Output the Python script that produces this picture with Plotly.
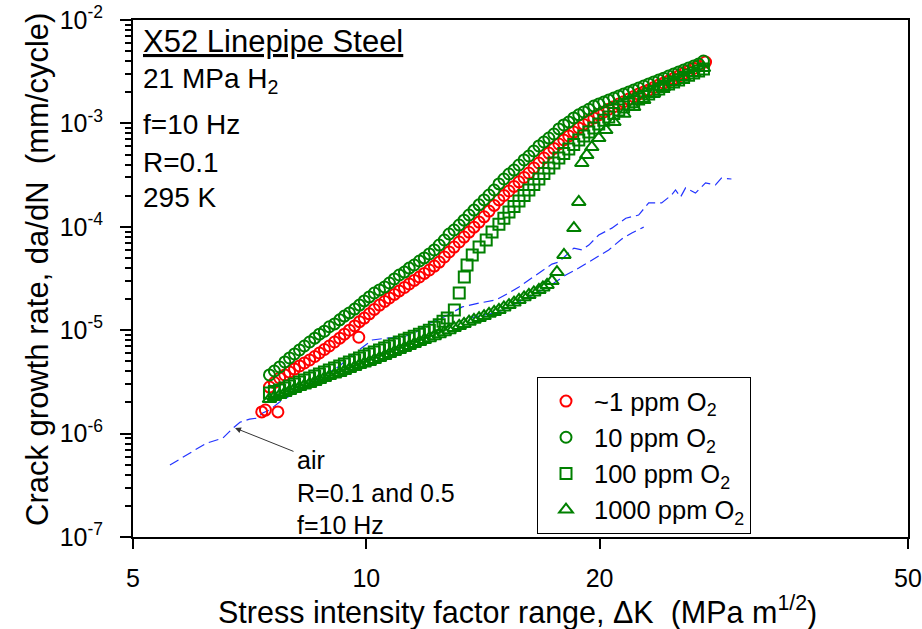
import plotly.graph_objects as go

# ---------------- data ----------------
# ~1 ppm O2  (red circles)
dk_1ppm = [7.33, 7.41, 7.69,
           7.50, 7.61, 7.73, 7.85, 7.96, 8.08, 8.20, 8.32, 8.45, 8.58, 8.70, 8.83, 8.96, 9.10,
           9.24, 9.37, 9.51, 9.66, 9.78, 9.80, 9.94, 10.09, 10.24, 10.40, 10.56, 10.71, 10.87,
           11.03, 11.20, 11.36, 11.53, 11.71, 11.88, 12.06, 12.24, 12.42, 12.61, 12.79, 12.98,
           13.18, 13.37, 13.57, 13.77, 13.98, 14.19, 14.40, 14.62, 14.83, 15.05, 15.28, 15.51,
           15.74, 15.98, 16.21, 16.45, 16.70, 16.95, 17.20, 17.46, 17.72, 17.98, 18.25, 18.52,
           18.80, 19.08, 19.37, 19.66, 19.95, 20.25, 20.55, 20.86, 21.17, 21.48, 21.81, 22.13,
           22.46, 22.80, 23.14, 23.49, 23.84, 24.19, 24.55, 24.92, 25.29, 25.67, 26.05, 26.45,
           26.84, 27.40]
rate_1ppm = [1.62e-6, 1.69e-6, 1.62e-6,
             2.82e-6, 3.12e-6, 3.45e-6, 3.69e-6, 3.94e-6, 4.21e-6, 4.51e-6, 4.82e-6, 5.15e-6,
             5.57e-6, 6.02e-6, 6.51e-6, 7.03e-6, 7.69e-6, 8.37e-6, 9.15e-6, 1.00e-5, 1.10e-5,
             8.55e-6, 1.21e-5, 1.31e-5, 1.44e-5, 1.59e-5, 1.75e-5, 1.90e-5, 2.05e-5, 2.22e-5,
             2.40e-5, 2.59e-5, 2.80e-5, 3.03e-5, 3.27e-5, 3.54e-5, 3.82e-5, 4.17e-5, 4.56e-5,
             5.11e-5, 5.71e-5, 6.37e-5, 7.13e-5, 7.96e-5, 8.90e-5, 9.92e-5, 1.11e-4, 1.25e-4,
             1.42e-4, 1.61e-4, 1.82e-4, 2.01e-4, 2.22e-4, 2.46e-4, 2.72e-4, 3.00e-4, 3.31e-4,
             3.71e-4, 4.14e-4, 4.63e-4, 5.17e-4, 5.73e-4, 6.32e-4, 6.91e-4, 7.55e-4, 8.25e-4,
             9.04e-4, 9.77e-4, 1.06e-3, 1.13e-3, 1.21e-3, 1.29e-3, 1.37e-3, 1.45e-3, 1.54e-3,
             1.62e-3, 1.72e-3, 1.82e-3, 1.92e-3, 2.01e-3, 2.10e-3, 2.23e-3, 2.35e-3, 2.46e-3,
             2.57e-3, 2.72e-3, 2.87e-3, 3.04e-3, 3.21e-3, 3.40e-3, 3.59e-3, 3.92e-3]

# 10 ppm O2 (green circles)
dk_10ppm = [7.50, 7.61, 7.73, 7.85, 7.96, 8.08, 8.20, 8.32, 8.45, 8.58, 8.70, 8.83, 8.96, 9.10,
            9.24, 9.37, 9.51, 9.66, 9.80, 9.94, 10.09, 10.24, 10.40, 10.56, 10.71, 10.87, 11.03,
            11.20, 11.36, 11.53, 11.71, 11.88, 12.06, 12.24, 12.42, 12.61, 12.79, 12.98, 13.18,
            13.37, 13.57, 13.77, 13.98, 14.19, 14.40, 14.62, 14.83, 15.05, 15.28, 15.51, 15.74,
            15.98, 16.21, 16.45, 16.70, 16.95, 17.20, 17.46, 17.72, 17.98, 18.25, 18.52, 18.80,
            19.08, 19.37, 19.66, 19.95, 20.25, 20.55, 20.86, 21.17, 21.48, 21.81, 22.13, 22.46,
            22.80, 23.14, 23.49, 23.84, 24.19, 24.55, 24.92, 25.29, 25.67, 26.05, 26.45, 26.84,
            27.23]
rate_10ppm = [3.69e-6, 4.03e-6, 4.41e-6, 4.93e-6, 5.39e-6, 5.89e-6, 6.44e-6, 7.03e-6, 7.69e-6,
              8.37e-6, 9.15e-6, 9.78e-6, 1.08e-5, 1.15e-5, 1.26e-5, 1.37e-5, 1.47e-5, 1.60e-5,
              1.75e-5, 1.92e-5, 2.10e-5, 2.29e-5, 2.45e-5, 2.62e-5, 2.86e-5, 3.13e-5, 3.42e-5,
              3.65e-5, 3.99e-5, 4.27e-5, 4.67e-5, 5.00e-5, 5.46e-5, 5.97e-5, 6.66e-5, 7.45e-5,
              8.52e-5, 9.31e-5, 1.04e-4, 1.16e-4, 1.30e-4, 1.45e-4, 1.63e-4, 1.82e-4, 2.03e-4,
              2.27e-4, 2.60e-4, 2.90e-4, 3.24e-4, 3.54e-4, 3.96e-4, 4.43e-4, 4.84e-4, 5.41e-4,
              6.05e-4, 6.61e-4, 7.22e-4, 7.90e-4, 8.84e-4, 9.66e-4, 1.03e-3, 1.13e-3, 1.21e-3,
              1.29e-3, 1.37e-3, 1.47e-3, 1.54e-3, 1.61e-3, 1.68e-3, 1.76e-3, 1.84e-3, 1.92e-3,
              2.01e-3, 2.10e-3, 2.20e-3, 2.30e-3, 2.41e-3, 2.52e-3, 2.63e-3, 2.74e-3, 2.87e-3,
              3.00e-3, 3.14e-3, 3.28e-3, 3.43e-3, 3.59e-3, 3.75e-3, 4.01e-3]

# 100 ppm O2 (green squares)
dk_100ppm = [7.50, 7.61, 7.73, 7.85, 7.96, 8.08, 8.20, 8.32, 8.45, 8.58, 8.70, 8.83, 8.96, 9.10,
             9.24, 9.37, 9.51, 9.66, 9.80, 9.94, 10.09, 10.24, 10.40, 10.56, 10.71, 10.87, 11.03,
             11.20, 11.36, 11.53, 11.71, 11.88, 12.06, 12.24, 12.42, 12.56, 12.72, 12.99, 13.18,
             13.38, 13.49, 13.70, 13.98, 14.28, 14.53, 14.83, 15.05, 15.28, 15.51, 15.74, 15.98,
             16.21, 16.45, 16.70, 16.95, 17.20, 17.46, 17.72, 17.98, 18.25, 18.52, 18.80, 19.08,
             19.37, 19.66, 19.95, 20.25, 20.55, 20.86, 21.17, 21.48, 21.81, 22.13, 22.46, 22.80,
             23.14, 23.49, 23.84, 24.19, 24.55, 24.92, 25.29, 25.67, 26.05, 26.45, 26.84, 27.23]
rate_100ppm = [2.47e-6, 2.55e-6, 2.64e-6, 2.76e-6, 2.89e-6, 3.02e-6, 3.16e-6, 3.30e-6, 3.45e-6,
               3.60e-6, 3.77e-6, 3.94e-6, 4.12e-6, 4.31e-6, 4.51e-6, 4.71e-6, 4.93e-6, 5.15e-6,
               5.39e-6, 5.63e-6, 5.89e-6, 6.16e-6, 6.44e-6, 6.73e-6, 7.03e-6, 7.36e-6, 7.69e-6,
               8.04e-6, 8.37e-6, 8.75e-6, 9.15e-6, 9.56e-6, 1.00e-5, 1.07e-5, 1.13e-5, 1.22e-5,
               1.31e-5, 1.57e-5, 2.29e-5, 3.27e-5, 4.27e-5, 5.34e-5, 6.37e-5, 7.45e-5, 8.90e-5,
               1.06e-4, 1.21e-4, 1.39e-4, 1.57e-4, 1.78e-4, 2.01e-4, 2.27e-4, 2.57e-4, 2.90e-4,
               3.28e-4, 3.71e-4, 4.14e-4, 4.63e-4, 5.12e-4, 5.65e-4, 6.25e-4, 6.91e-4, 7.55e-4,
               8.25e-4, 9.04e-4, 9.88e-4, 1.07e-3, 1.15e-3, 1.25e-3, 1.35e-3, 1.44e-3, 1.54e-3,
               1.62e-3, 1.72e-3, 1.82e-3, 1.92e-3, 2.03e-3, 2.15e-3, 2.28e-3, 2.41e-3, 2.52e-3,
               2.63e-3, 2.78e-3, 2.93e-3, 3.07e-3, 3.21e-3, 3.36e-3]

# 1000 ppm O2 (green triangles)
dk_1000ppm = [7.50, 7.61, 7.73, 7.85, 7.96, 8.08, 8.20, 8.32, 8.45, 8.58, 8.70, 8.83, 8.96, 9.10,
              9.24, 9.37, 9.51, 9.66, 9.80, 9.94, 10.09, 10.24, 10.40, 10.56, 10.71, 10.87, 11.03,
              11.20, 11.36, 11.53, 11.71, 11.88, 12.06, 12.24, 12.42, 12.61, 12.79, 12.98, 13.18,
              13.37, 13.57, 13.77, 13.98, 14.19, 14.40, 14.62, 14.83, 15.05, 15.28, 15.51, 15.74,
              15.98, 16.21, 16.45, 16.70, 16.90, 17.11, 17.36, 17.62, 17.99, 18.53, 18.80, 18.97,
              19.25, 19.54, 19.95, 20.37, 20.87, 21.49, 22.13, 22.80, 23.49, 24.19, 24.92, 25.67,
              26.45, 27.23]
rate_1000ppm = [2.16e-6, 2.26e-6, 2.36e-6, 2.47e-6, 2.58e-6, 2.70e-6, 2.82e-6, 2.92e-6, 3.02e-6,
                3.16e-6, 3.30e-6, 3.45e-6, 3.60e-6, 3.73e-6, 3.85e-6, 4.03e-6, 4.21e-6, 4.41e-6,
                4.61e-6, 4.77e-6, 4.93e-6, 5.15e-6, 5.39e-6, 5.63e-6, 5.89e-6, 6.16e-6, 6.44e-6,
                6.73e-6, 7.03e-6, 7.36e-6, 7.69e-6, 8.04e-6, 8.37e-6, 8.75e-6, 9.15e-6, 9.56e-6,
                1.00e-5, 1.05e-5, 1.10e-5, 1.15e-5, 1.21e-5, 1.26e-5, 1.31e-5, 1.37e-5, 1.44e-5,
                1.50e-5, 1.57e-5, 1.66e-5, 1.75e-5, 1.85e-5, 1.96e-5, 2.08e-5, 2.19e-5, 2.32e-5,
                2.45e-5, 2.59e-5, 2.74e-5, 2.99e-5, 3.65e-5, 5.34e-5, 9.71e-5, 1.74e-4, 4.14e-4,
                4.95e-4, 5.91e-4, 7.22e-4, 8.63e-4, 1.03e-3, 1.24e-3, 1.44e-3, 1.68e-3, 1.96e-3,
                2.25e-3, 2.52e-3, 2.81e-3, 3.07e-3, 3.43e-3]

# air reference curves (blue dashed)
dk_air_a = [5.58, 5.80, 6.01, 6.23, 6.53, 6.73, 6.87, 7.07, 7.22, 7.35, 7.50, 7.73, 7.96, 8.20,
            8.70, 9.24, 9.51, 9.89, 10.18, 10.61, 11.13, 11.53, 11.95, 12.53, 13.30, 13.98,
            14.70, 15.28, 15.74, 16.21, 16.70, 17.36, 17.72, 18.25, 18.53, 18.97, 19.37, 19.95,
            20.74, 21.62, 22.46, 23.14, 24.05, 24.77, 25.06, 25.44, 25.82, 26.59, 27.40, 28.22,
            28.72, 29.59]
rate_air_a = [4.96e-7, 5.94e-7, 6.94e-7, 8.11e-7, 9.04e-7, 1.13e-6, 1.29e-6, 1.38e-6, 1.41e-6,
              1.58e-6, 1.69e-6, 2.02e-6, 2.31e-6, 2.64e-6, 3.45e-6, 4.51e-6, 5.51e-6, 6.88e-6,
              8.04e-6, 8.37e-6, 8.55e-6, 9.35e-6, 1.13e-5, 1.31e-5, 1.68e-5, 1.83e-5, 1.96e-5,
              2.29e-5, 2.62e-5, 3.06e-5, 3.57e-5, 4.36e-5, 4.56e-5, 5.58e-5, 6.23e-5, 5.97e-5,
              6.66e-5, 8.33e-5, 9.71e-5, 1.21e-4, 1.30e-4, 1.70e-4, 1.70e-4, 2.03e-4, 2.27e-4,
              1.94e-4, 2.38e-4, 2.12e-4, 2.66e-4, 2.54e-4, 2.96e-4, 2.90e-4]
dk_air_b = [13.57, 14.83, 15.74, 16.70, 17.46, 18.09, 18.80, 19.54, 20.55, 21.36, 22.01, 22.80]
rate_air_b = [1.31e-5, 1.50e-5, 1.87e-5, 2.34e-5, 2.86e-5, 3.42e-5, 3.99e-5, 4.77e-5, 5.97e-5,
              7.62e-5, 8.71e-5, 9.92e-5]

x_tickvals = [5, 10, 20, 50]
x_ticktext = ["5", "10", "20", "50"]
y_tickvals = [1e-7, 1e-6, 1e-5, 1e-4, 1e-3, 1e-2]
y_ticktext = ["10<sup>-7</sup>", "10<sup>-6</sup>", "10<sup>-5</sup>",
              "10<sup>-4</sup>", "10<sup>-3</sup>", "10<sup>-2</sup>"]
y_minor = [m * 10.0 ** e for e in range(-7, -2) for m in range(2, 10)]

FONT = "Liberation Sans, Arial, sans-serif"
RED = "#ff0000"
GREEN = "#008000"
BLUE = "#2233ff"

fig = go.Figure()

for xs, ys in [(dk_air_a, rate_air_a), (dk_air_b, rate_air_b)]:
    fig.add_trace(go.Scatter(x=xs, y=ys, mode="lines", showlegend=False,
                             line=dict(color=BLUE, width=1.2, dash="10px,5px")))

fig.add_trace(go.Scatter(x=dk_1ppm, y=rate_1ppm, mode="markers", name="~1 ppm O<sub>2</sub>",
                         marker=dict(symbol="circle-open", size=11, color=RED,
                                     line=dict(width=2, color=RED))))
fig.add_trace(go.Scatter(x=dk_10ppm, y=rate_10ppm, mode="markers", name="10 ppm O<sub>2</sub>",
                         marker=dict(symbol="circle-open", size=11, color=GREEN,
                                     line=dict(width=2, color=GREEN))))
fig.add_trace(go.Scatter(x=dk_100ppm, y=rate_100ppm, mode="markers", name="100 ppm O<sub>2</sub>",
                         marker=dict(symbol="square-open", size=11, color=GREEN,
                                     line=dict(width=2, color=GREEN))))
fig.add_trace(go.Scatter(x=dk_1000ppm, y=rate_1000ppm, mode="markers", name="1000 ppm O<sub>2</sub>",
                         marker=dict(symbol="triangle-up-open", size=12, color=GREEN,
                                     line=dict(width=2, color=GREEN))))

L, R, T, B = 133, 14, 20, 92
W, H = 922, 629
pw, ph = W - L - R, H - T - B


def px(xp):
    return (xp - L) / pw


def py(yp):
    return (H - B - yp) / ph


annotations = []
# top-left labels
for txt, ypix, size in [("<u>X52 Linepipe Steel</u>", 42, 31),
                        ("21 MPa H<sub>2</sub>", 80, 28),
                        ("f=10 Hz", 125, 28),
                        ("R=0.1", 162, 28),
                        ("295 K", 197, 28)]:
    annotations.append(dict(x=px(141), y=py(ypix), xref="paper", yref="paper", text=txt,
                            showarrow=False, xanchor="left", yanchor="middle",
                            font=dict(family=FONT, size=size, color="black")))
# air label and arrow
annotations.append(dict(x=px(295), y=py(492), xref="paper", yref="paper",
                        text="air<br>R=0.1 and 0.5<br>f=10 Hz", align="left",
                        showarrow=False, xanchor="left", yanchor="middle",
                        font=dict(family=FONT, size=25, color="black")))
annotations.append(dict(x=px(235), y=py(428), xref="paper", yref="paper", text="",
                        showarrow=True, ax=60, ay=24, arrowhead=2, arrowsize=1.2,
                        arrowwidth=1, arrowcolor="#333333"))
# axis titles
annotations.append(dict(x=px(37), y=py(270), xref="paper", yref="paper",
                        text="Crack growth rate, da/dN  (mm/cycle)", textangle=-90,
                        showarrow=False, xanchor="center", yanchor="middle",
                        font=dict(family=FONT, size=31, color="black")))
annotations.append(dict(x=px(517), y=py(610), xref="paper", yref="paper",
                        text="Stress intensity factor range, \u0394K  (MPa m<sup>1/2</sup>)",
                        showarrow=False, xanchor="center", yanchor="middle",
                        font=dict(family=FONT, size=30.5, color="black")))

fig.update_layout(
    width=W, height=H,
    margin=dict(l=L, r=R, t=T, b=B),
    paper_bgcolor="white", plot_bgcolor="white",
    font=dict(family=FONT, size=25, color="black"),
    annotations=annotations,
    legend=dict(x=px(537), y=py(377), xanchor="left", yanchor="top",
                bordercolor="black", borderwidth=1, bgcolor="white",
                font=dict(family=FONT, size=25.5, color="black"),
                itemwidth=46),
    xaxis=dict(type="log", range=[0.69897, 1.69897], tickvals=x_tickvals, ticktext=x_ticktext,
               automargin=False,
               showgrid=False, zeroline=False, showline=True, linecolor="black", linewidth=2,
               mirror=True, ticks="outside", ticklen=10, tickwidth=2, tickcolor="black",
               ticklabelstandoff=8, tickfont=dict(family=FONT, size=25)),
    yaxis=dict(type="log", range=[-7, -2], tickvals=y_tickvals, ticktext=y_ticktext,
               automargin=False,
               showgrid=False, zeroline=False, showline=True, linecolor="black", linewidth=2,
               mirror=True, ticks="outside", ticklen=11, tickwidth=2, tickcolor="black",
               ticklabelstandoff=12, tickfont=dict(family=FONT, size=25),
               minor=dict(tickvals=y_minor, ticks="outside", ticklen=6, tickwidth=1.5,
                          tickcolor="black", showgrid=False)),
)

fig.write_html("out.html", config={"displayModeBar": False},
               post_script="document.body.style.margin='0px';")
